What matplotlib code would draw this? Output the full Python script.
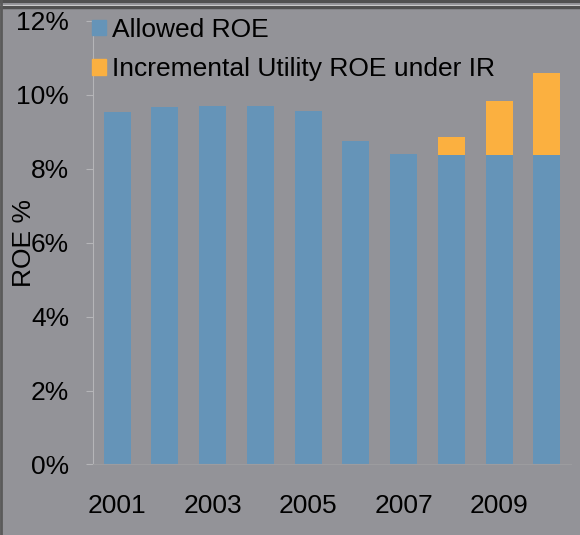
import matplotlib
matplotlib.use('Agg')
import matplotlib.pyplot as plt
from matplotlib.patches import Patch
from matplotlib.lines import Line2D

years = ['2001', '2002', '2003', '2004', '2005', '2006', '2007', '2008', '2009', '2010']
allowed_roe = [9.54, 9.67, 9.70, 9.70, 9.57, 8.74, 8.40, 8.38, 8.38, 8.38]
incremental_roe = [0, 0, 0, 0, 0, 0, 0, 0.48, 1.44, 2.21]
yticks = [0, 2, 4, 6, 8, 10, 12]

bg = '#939398'
blue = '#6594b8'
orange = '#fbb040'

plt.rcParams['font.family'] = ['Liberation Sans', 'DejaVu Sans']

fig = plt.figure(figsize=(5.8, 5.35), dpi=100)
fig.patch.set_facecolor(bg)
ax = fig.add_axes([0.160, 0.1318, 0.824, 0.8295])
ax.set_facecolor(bg)

x = range(len(years))
ax.bar(x, allowed_roe, width=0.565, color=blue, label='Allowed ROE')
ax.bar(x, incremental_roe, width=0.565, bottom=allowed_roe, color=orange,
       label='Incremental Utility ROE under IR')

ax.set_xlim(-0.51, 9.5)
ax.set_ylim(0, 12)
ax.set_yticks(yticks)
ax.set_yticklabels(['%d%%' % v for v in yticks])
ax.set_xticks(list(x)[::2])
ax.set_xticklabels(years[::2])

ax.tick_params(axis='y', length=5, color='#b5b5b8', labelsize=19, pad=12)
ax.tick_params(axis='x', length=0, labelsize=19, pad=21)
for s in ['top', 'right']:
    ax.spines[s].set_visible(False)
ax.spines['left'].set_color('#b5b5b8')
ax.spines['bottom'].set_color('#9c9c9f')

ax.set_ylabel('ROE %', fontsize=19, labelpad=-14)

handles = [Patch(color=blue), Patch(color=orange)]
ax.legend(handles, ['Allowed ROE', 'Incremental Utility ROE under IR'],
          loc='upper left', bbox_to_anchor=(-0.002, 1.006), frameon=False,
          fontsize=19, handlelength=0.53, handleheight=0.53,
          handletextpad=0.25, labelspacing=0.58, borderpad=0, borderaxespad=0)

# frame lines round the picture
fig.add_artist(Line2D([0, 1], [0.9975, 0.9975], transform=fig.transFigure, color='#505050', lw=2.2))
fig.add_artist(Line2D([0, 1], [0.9915, 0.9915], transform=fig.transFigure, color='#f0f0f0', lw=0.8))
fig.add_artist(Line2D([0, 1], [0.9875, 0.9875], transform=fig.transFigure, color='#505050', lw=2.5))
fig.add_artist(Line2D([0.002, 0.002], [0, 1], transform=fig.transFigure, color='#5a5a5a', lw=2))

fig.savefig('out.png', dpi=100, facecolor=bg)
